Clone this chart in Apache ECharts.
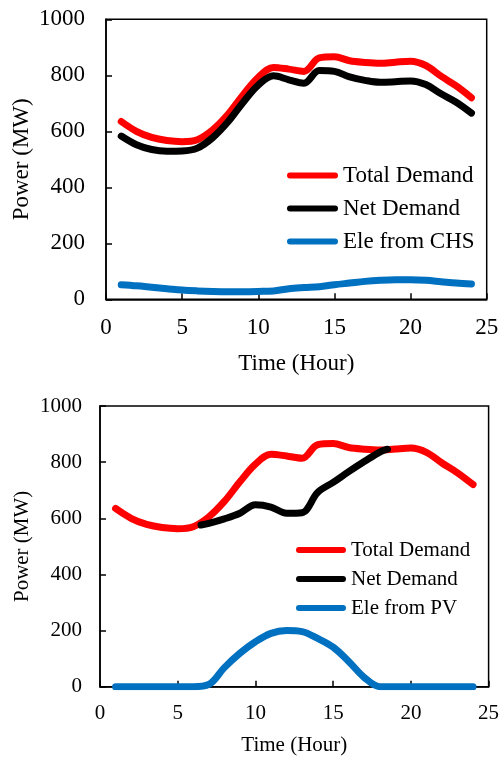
<!DOCTYPE html>
<html>
<head>
<meta charset="utf-8">
<script src="https://cdn.jsdelivr.net/npm/echarts@6/dist/echarts.min.js"></script>
<style>
  html, body { margin: 0; padding: 0; background: #fff; }
  #chart { width: 499px; height: 757px; }
</style>
</head>
<body>
<div id="chart"></div>
<script>
// Hourly electricity balance, hours 1..24
const hours = [1, 2, 3, 4, 5, 6, 7, 8, 9, 10, 11, 12, 13, 14, 15, 16, 17, 18, 19, 20, 21, 22, 23, 24];

// Total demand (MW), shared by both panels
const totalDemand = [635, 600, 578, 567, 563, 570, 605, 660, 730, 793, 828, 822, 814, 862, 866, 852, 846, 843, 847, 850, 835, 797, 762, 720];

// Upper panel: combined heat supply
const netDemandCHS = [583, 552, 535, 529, 530, 540, 577, 633, 703, 765, 798, 784, 772, 817, 814, 794, 782, 775, 777, 780, 767, 734, 704, 665];
const eleFromCHS = [52, 48, 43, 38, 33, 30, 28, 27, 27, 28, 30, 38, 42, 45, 52, 58, 64, 68, 70, 70, 68, 63, 58, 55];

// Lower panel: photovoltaic supply
const eleFromPV = [0, 0, 0, 0, 0, 0, 8, 68, 119, 160, 190, 200, 196, 172, 141, 90, 33, 0, 0, 0, 0, 0, 0, 0];
const netHoursPV = [6.5, 7, 8, 9, 10, 11, 12, 13, 14, 15, 16, 17, 18, 18.5];
const netDemandPV = [576, 582, 598, 618, 648, 640, 618, 620, 692, 728, 766, 802, 836, 846];

// Axis ticks
const xTicks = { min: 0, max: 25, interval: 5 };
const yTicks = { min: 0, max: 1000, interval: 200 };

const RED = '#FF0000', BLACK = '#000000', BLUE = '#0070C0';
const FONT = "'Liberation Serif', 'Times New Roman', serif";

const pairs = (xs, ys) => xs.map((x, i) => [x, ys[i]]);

function lineSeries(name, color, data, axisIdx) {
  return {
    name: name,
    type: 'line',
    xAxisIndex: axisIdx,
    yAxisIndex: axisIdx,
    data: data,
    smooth: 0.35,
    symbol: 'none',
    showSymbol: false,
    itemStyle: { color: color },
    lineStyle: { color: color, width: 7, cap: 'round', join: 'round' },
    emphasis: { disabled: true },
    animation: false
  };
}

function xAxisOpt(gridIdx, fontSize, margin, nameGap) {
  return {
    type: 'value', gridIndex: gridIdx,
    min: xTicks.min, max: xTicks.max, interval: xTicks.interval,
    name: 'Time (Hour)', nameLocation: 'middle', nameGap: nameGap, nameMoveOverlap: false,
    nameTextStyle: { fontFamily: FONT, fontSize: fontSize, color: '#000', lineHeight: fontSize },
    axisLine: { show: true, lineStyle: { color: '#000', width: 1.5 } },
    axisTick: { show: true, inside: true, length: 6, lineStyle: { color: '#000', width: 1.5 } },
    axisLabel: { fontFamily: FONT, fontSize: fontSize, color: '#000', margin: margin,
                 formatter: v => String(v) },
    splitLine: { show: false }
  };
}

function yAxisOpt(gridIdx, fontSize, margin, nameGap) {
  return {
    type: 'value', gridIndex: gridIdx,
    min: yTicks.min, max: yTicks.max, interval: yTicks.interval,
    name: 'Power (MW)', nameLocation: 'middle', nameGap: nameGap, nameRotate: 90, nameMoveOverlap: false,
    nameTextStyle: { fontFamily: FONT, fontSize: fontSize, color: '#000', lineHeight: fontSize },
    axisLine: { show: true, lineStyle: { color: '#000', width: 1.5 } },
    axisTick: { show: true, inside: true, length: 6, lineStyle: { color: '#000', width: 1.5 } },
    axisLabel: { fontFamily: FONT, fontSize: fontSize, color: '#000', margin: margin,
                 formatter: v => String(v) },
    splitLine: { show: false }
  };
}

function legendOpt(names, left, top, iconW, fontSize, gap) {
  const h = 6, r = 3;
  return {
    orient: 'vertical',
    left: left, top: top,
    padding: 0,
    itemGap: gap,
    itemWidth: iconW, itemHeight: h,
    icon: 'path://M' + r + ',0H' + (iconW - r) + 'A' + r + ',' + r + ',0,0,1,' + (iconW - r) + ',' + h +
          'H' + r + 'A' + r + ',' + r + ',0,0,1,' + r + ',0Z',
    itemStyle: { borderWidth: 0 },
    selectedMode: false,
    textStyle: { fontFamily: FONT, fontSize: fontSize, color: '#000', lineHeight: fontSize },
    data: names
  };
}

const chart = echarts.init(document.getElementById('chart'), null, { renderer: 'canvas' });

const gridBase = { show: true, borderColor: '#000', borderWidth: 1.5, containLabel: false, outerBoundsMode: 'none' };

chart.setOption({
  backgroundColor: '#fff',
  animation: false,
  grid: [
    Object.assign({ left: 106, top: 19.3, width: 380.7, height: 280 }, gridBase),
    Object.assign({ left: 100, top: 406, width: 388.6, height: 280.7 }, gridBase)
  ],
  xAxis: [xAxisOpt(0, 23, 17, 53), xAxisOpt(1, 21, 16, 48.5)],
  yAxis: [yAxisOpt(0, 23, 21, 73), yAxisOpt(1, 21, 18, 67.5)],
  legend: [
    legendOpt(['Total Demand', 'Net Demand', 'Ele from CHS'], 287, 164, 51, 23, 10),
    legendOpt(['Total Demand', 'Net Demand', 'Ele from PV'], 296, 539.5, 50, 21, 8)
  ],
  series: [
    lineSeries('Total Demand', RED, pairs(hours, totalDemand), 0),
    lineSeries('Net Demand', BLACK, pairs(hours, netDemandCHS), 0),
    lineSeries('Ele from CHS', BLUE, pairs(hours, eleFromCHS), 0),
    lineSeries('Total Demand', RED, pairs(hours, totalDemand), 1),
    lineSeries('Net Demand', BLACK, pairs(netHoursPV, netDemandPV), 1),
    lineSeries('Ele from PV', BLUE, pairs(hours, eleFromPV), 1)
  ]
});
</script>
</body>
</html>
